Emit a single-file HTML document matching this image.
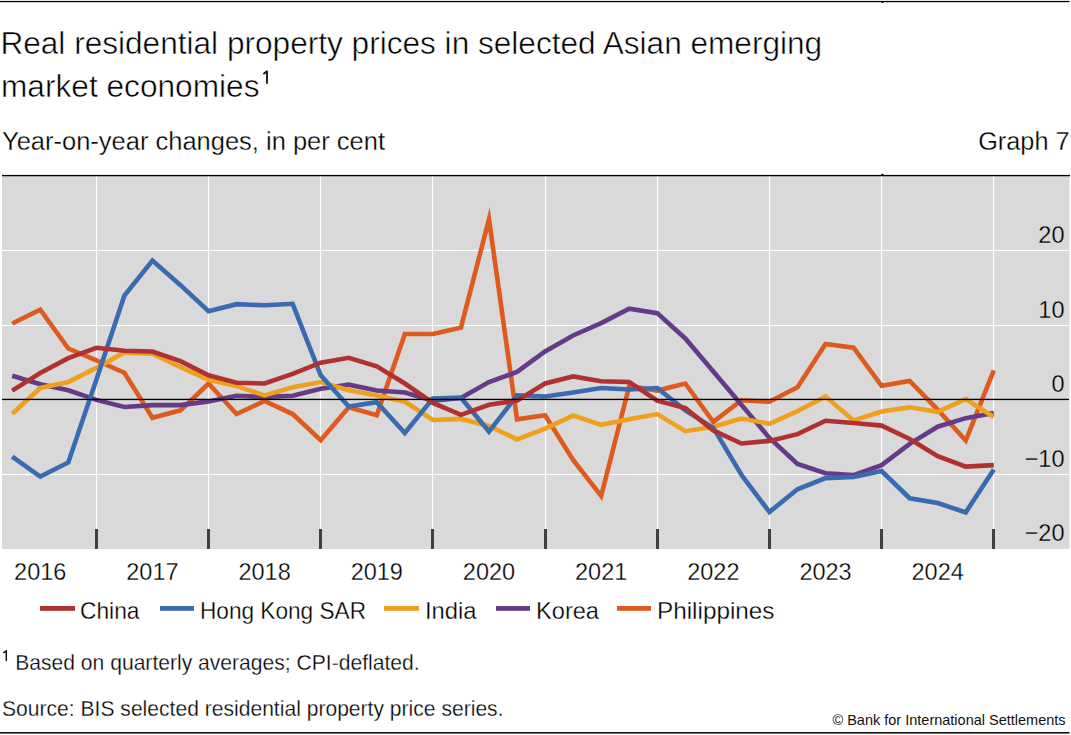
<!DOCTYPE html>
<html><head><meta charset="utf-8"><title>Real residential property prices</title>
<style>
html,body{margin:0;padding:0;background:#fff;width:1071px;height:735px;overflow:hidden}
svg{display:block}
text{font-family:"Liberation Sans", sans-serif;fill:#000;stroke:#fff;stroke-width:0.3px}
.t{stroke-width:0.5px}
</style></head><body>
<svg width="1071" height="735" viewBox="0 0 1071 735">
<rect x="0" y="0" width="1071" height="735" fill="#fff"/>
<rect x="0" y="0.9" width="1069.5" height="1.3" fill="#000"/><path d="M881,2 L884,2 L882.5,3.2 Z" fill="#000"/>

<text class="t" x="0.4" y="53.7" font-size="31" textLength="821.8" lengthAdjust="spacingAndGlyphs">Real residential property prices in selected Asian emerging</text>
<text class="t" x="1" y="96.5" font-size="31" textLength="258.5" lengthAdjust="spacingAndGlyphs">market economies</text>
<path d="M267,83.8 V71.3 L263.4,74" fill="none" stroke="#0d0d1a" stroke-width="1.8" stroke-linejoin="round"/>
<text x="2" y="149.7" font-size="25.3" textLength="383" lengthAdjust="spacingAndGlyphs">Year-on-year changes, in per cent</text>
<text x="1069.6" y="149.7" font-size="25.3" text-anchor="end">Graph 7</text>
<rect x="2" y="176" width="1067.5" height="373" fill="#d9d9d9"/>
<rect x="95.90" y="176" width="1.2" height="373" fill="#fff"/>
<rect x="207.90" y="176" width="1.2" height="373" fill="#fff"/>
<rect x="319.90" y="176" width="1.2" height="373" fill="#fff"/>
<rect x="431.90" y="176" width="1.2" height="373" fill="#fff"/>
<rect x="544.90" y="176" width="1.2" height="373" fill="#fff"/>
<rect x="656.90" y="176" width="1.2" height="373" fill="#fff"/>
<rect x="768.90" y="176" width="1.2" height="373" fill="#fff"/>
<rect x="880.90" y="176" width="1.2" height="373" fill="#fff"/>
<rect x="992.90" y="176" width="1.2" height="373" fill="#fff"/>
<rect x="2" y="249.90" width="1067" height="1.2" fill="#fff"/>
<rect x="2" y="324.90" width="1067" height="1.2" fill="#fff"/>
<rect x="2" y="473.90" width="1067" height="1.2" fill="#fff"/>
<rect x="2" y="174.9" width="1068" height="1.35" fill="#000"/><path d="M881,175 L884,175 L882.5,173.6 Z" fill="#000"/>
<rect x="95.00" y="529" width="3" height="20" fill="#404040"/>
<rect x="207.00" y="529" width="3" height="20" fill="#404040"/>
<rect x="319.00" y="529" width="3" height="20" fill="#404040"/>
<rect x="431.00" y="529" width="3" height="20" fill="#404040"/>
<rect x="544.00" y="529" width="3" height="20" fill="#404040"/>
<rect x="656.00" y="529" width="3" height="20" fill="#404040"/>
<rect x="768.00" y="529" width="3" height="20" fill="#404040"/>
<rect x="880.00" y="529" width="3" height="20" fill="#404040"/>
<rect x="992.00" y="529" width="3" height="20" fill="#404040"/>
<text x="1064.5" y="243.40" font-size="23.5" text-anchor="end" style="stroke:#d9d9d9">20</text>
<text x="1064.5" y="317.90" font-size="23.5" text-anchor="end" style="stroke:#d9d9d9">10</text>
<text x="1064.5" y="392.40" font-size="23.5" text-anchor="end" style="stroke:#d9d9d9">0</text>
<text x="1064.5" y="466.90" font-size="23.5" text-anchor="end" style="stroke:#d9d9d9">−10</text>
<text x="1064.5" y="541.40" font-size="23.5" text-anchor="end" style="stroke:#d9d9d9">−20</text>
<path d="M12.21,323.54 L40.26,309.75 L68.30,348.50 L96.35,360.41 L124.39,372.71 L152.44,417.78 L180.49,410.33 L208.53,383.51 L236.58,414.05 L264.62,401.02 L292.66,414.05 L320.71,440.13 L348.75,407.35 L376.80,415.17 L404.85,333.97 L432.89,333.97 L460.94,327.63 L488.98,219.24 L517.02,419.27 L545.07,415.17 L573.12,459.87 L601.16,496.00 L629.21,386.12 L657.25,390.59 L685.30,383.51 L713.34,421.88 L741.39,400.27 L769.43,401.76 L797.48,387.23 L825.52,344.02 L853.57,347.75 L881.61,385.75 L909.66,380.90 L937.70,409.58 L965.75,440.50 L993.79,370.47" fill="none" stroke="#DE5A1E" stroke-width="4.6" stroke-linejoin="miter" stroke-miterlimit="10"/>
<path d="M12.21,375.69 L40.26,384.25 L68.30,390.21 L96.35,399.90 L124.39,406.98 L152.44,405.11 L180.49,405.11 L208.53,401.39 L236.58,395.80 L264.62,396.92 L292.66,395.80 L320.71,388.72 L348.75,384.63 L376.80,390.59 L404.85,392.45 L432.89,400.64 L460.94,398.04 L488.98,382.02 L517.02,371.96 L545.07,351.47 L573.12,335.46 L601.16,323.16 L629.21,308.64 L657.25,313.11 L685.30,338.44 L713.34,371.59 L741.39,404.74 L769.43,437.89 L797.48,463.97 L825.52,473.28 L853.57,475.14 L881.61,465.09 L909.66,443.85 L937.70,426.72 L965.75,418.15 L993.79,412.94" fill="none" stroke="#653A88" stroke-width="4.6" stroke-linejoin="miter" stroke-miterlimit="10"/>
<path d="M12.21,413.68 L40.26,387.98 L68.30,382.02 L96.35,367.87 L124.39,352.59 L152.44,353.71 L180.49,367.12 L208.53,379.78 L236.58,386.12 L264.62,395.43 L292.66,387.23 L320.71,382.02 L348.75,390.21 L376.80,395.43 L404.85,401.76 L432.89,420.01 L460.94,418.90 L488.98,425.97 L517.02,439.38 L545.07,428.58 L573.12,415.54 L601.16,424.86 L629.21,419.27 L657.25,414.05 L685.30,431.19 L713.34,426.72 L741.39,418.52 L769.43,423.74 L797.48,411.07 L825.52,396.55 L853.57,420.39 L881.61,411.45 L909.66,407.35 L937.70,411.82 L965.75,399.15 L993.79,417.03" fill="none" stroke="#EEA11C" stroke-width="4.6" stroke-linejoin="miter" stroke-miterlimit="10"/>
<path d="M12.21,456.52 L40.26,476.63 L68.30,462.48 L96.35,379.78 L124.39,295.60 L152.44,260.58 L180.49,285.17 L208.53,311.25 L236.58,304.17 L264.62,305.28 L292.66,303.79 L320.71,375.31 L348.75,406.60 L376.80,402.13 L404.85,433.05 L432.89,398.41 L460.94,397.66 L488.98,431.56 L517.02,395.43 L545.07,396.55 L573.12,392.45 L601.16,387.98 L629.21,389.47 L657.25,387.98 L685.30,410.33 L713.34,427.84 L741.39,474.77 L769.43,512.02 L797.48,489.30 L825.52,478.12 L853.57,477.01 L881.61,471.05 L909.66,498.24 L937.70,503.08 L965.75,512.39 L993.79,469.56" fill="none" stroke="#386BB0" stroke-width="4.6" stroke-linejoin="miter" stroke-miterlimit="10"/>
<path d="M12.21,390.59 L40.26,373.08 L68.30,358.18 L96.35,347.75 L124.39,350.73 L152.44,351.47 L180.49,361.16 L208.53,375.31 L236.58,382.76 L264.62,383.51 L292.66,373.82 L320.71,362.65 L348.75,357.81 L376.80,366.38 L404.85,383.51 L432.89,402.88 L460.94,414.80 L488.98,404.74 L517.02,400.64 L545.07,383.51 L573.12,376.43 L601.16,381.27 L629.21,382.02 L657.25,400.64 L685.30,408.09 L713.34,430.44 L741.39,443.48 L769.43,440.88 L797.48,434.17 L825.52,420.76 L853.57,423.00 L881.61,425.60 L909.66,439.01 L937.70,456.15 L965.75,466.58 L993.79,465.09" fill="none" stroke="#B03130" stroke-width="4.6" stroke-linejoin="miter" stroke-miterlimit="10"/>
<rect x="2" y="398.75" width="1067" height="1.35" fill="#000"/>
<text x="40.26" y="580" font-size="23.5" text-anchor="middle">2016</text>
<text x="152.44" y="580" font-size="23.5" text-anchor="middle">2017</text>
<text x="264.62" y="580" font-size="23.5" text-anchor="middle">2018</text>
<text x="376.80" y="580" font-size="23.5" text-anchor="middle">2019</text>
<text x="488.98" y="580" font-size="23.5" text-anchor="middle">2020</text>
<text x="601.16" y="580" font-size="23.5" text-anchor="middle">2021</text>
<text x="713.34" y="580" font-size="23.5" text-anchor="middle">2022</text>
<text x="825.52" y="580" font-size="23.5" text-anchor="middle">2023</text>
<text x="937.70" y="580" font-size="23.5" text-anchor="middle">2024</text>
<rect x="40" y="606" width="35" height="4.8" fill="#B03130"/>
<text x="80" y="619" font-size="24" textLength="59.5" lengthAdjust="spacingAndGlyphs">China</text>
<rect x="160" y="606" width="34" height="4.8" fill="#386BB0"/>
<text x="200" y="619" font-size="24" textLength="166" lengthAdjust="spacingAndGlyphs">Hong Kong SAR</text>
<rect x="384" y="606" width="35" height="4.8" fill="#EEA11C"/>
<text x="425" y="619" font-size="24" textLength="51.5" lengthAdjust="spacingAndGlyphs">India</text>
<rect x="496" y="606" width="34" height="4.8" fill="#653A88"/>
<text x="536" y="619" font-size="24" textLength="63" lengthAdjust="spacingAndGlyphs">Korea</text>
<rect x="617" y="606" width="34" height="4.8" fill="#DE5A1E"/>
<text x="657" y="619" font-size="24" textLength="117.5" lengthAdjust="spacingAndGlyphs">Philippines</text>
<path d="M6.3,660.9 V650.8 L3.3,653" fill="none" stroke="#0d0d1a" stroke-width="1.45" stroke-linejoin="round"/>
<text x="15.2" y="669.7" font-size="22.6" textLength="404.5" lengthAdjust="spacingAndGlyphs">Based on quarterly averages; CPI-deflated.</text>
<text x="2" y="715.7" font-size="22.6" textLength="501.5" lengthAdjust="spacingAndGlyphs">Source: BIS selected residential property price series.</text>
<text x="1065.6" y="724.6" font-size="14.5" text-anchor="end" style="stroke:none;fill:#111">© Bank for International Settlements</text>
<rect x="0" y="732" width="1069.5" height="1.6" fill="#111"/>
</svg></body></html>
